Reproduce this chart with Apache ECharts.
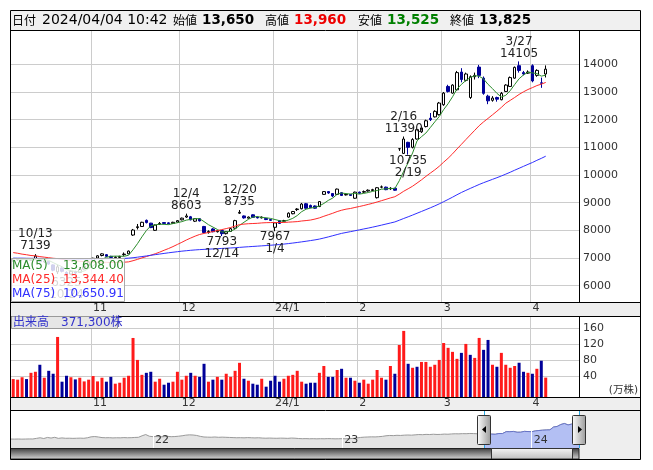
<!DOCTYPE html>
<html><head><meta charset="utf-8">
<script src="https://cdn.jsdelivr.net/npm/echarts@6/dist/echarts.min.js"></script>
<style>html,body{margin:0;padding:0;background:#fff}#c{width:653px;height:470px}</style>
</head><body><div id="c"></div>
<script>
const FONT = '"DejaVu Sans", "Noto Sans CJK JP", sans-serif';

// ---- trading days (plus blank future days that fill the right of the axis) ----
const dates = [
'2023-10-05','2023-10-06','2023-10-10','2023-10-11','2023-10-12','2023-10-13','2023-10-16','2023-10-17','2023-10-18','2023-10-19','2023-10-20','2023-10-23','2023-10-24','2023-10-25','2023-10-26','2023-10-27','2023-10-30','2023-10-31',
'2023-11-01','2023-11-02','2023-11-06','2023-11-07','2023-11-08','2023-11-09','2023-11-10','2023-11-13','2023-11-14','2023-11-15','2023-11-16','2023-11-17','2023-11-20','2023-11-21','2023-11-22','2023-11-24','2023-11-27','2023-11-28','2023-11-29','2023-11-30',
'2023-12-01','2023-12-04','2023-12-05','2023-12-06','2023-12-07','2023-12-08','2023-12-11','2023-12-12','2023-12-13','2023-12-14','2023-12-15','2023-12-18','2023-12-19','2023-12-20','2023-12-21','2023-12-22','2023-12-25','2023-12-26','2023-12-27','2023-12-28','2023-12-29',
'2024-01-04','2024-01-05','2024-01-09','2024-01-10','2024-01-11','2024-01-12','2024-01-15','2024-01-16','2024-01-17','2024-01-18','2024-01-19','2024-01-22','2024-01-23','2024-01-24','2024-01-25','2024-01-26','2024-01-29','2024-01-30','2024-01-31',
'2024-02-01','2024-02-02','2024-02-05','2024-02-06','2024-02-07','2024-02-08','2024-02-09','2024-02-13','2024-02-14','2024-02-15','2024-02-16','2024-02-19','2024-02-20','2024-02-21','2024-02-22','2024-02-26','2024-02-27','2024-02-28','2024-02-29',
'2024-03-01','2024-03-04','2024-03-05','2024-03-06','2024-03-07','2024-03-08','2024-03-11','2024-03-12','2024-03-13','2024-03-14','2024-03-15','2024-03-18','2024-03-19','2024-03-21','2024-03-22','2024-03-25','2024-03-26','2024-03-27','2024-03-28','2024-03-29',
'2024-04-01','2024-04-02','2024-04-03','2024-04-04',
'2024-04-05','2024-04-08','2024-04-09','2024-04-10','2024-04-11','2024-04-12','2024-04-15'];

const opens = [6900,6930,6940,6970,6920,6970,6980,6860,6880,6750, 6500,6640,6480,6420,6500,6480,6600,6720,6900,7000, 7090,7120,7060,7010,7020,7120,7150,7830,8100,8140, 8360,8260,8000,8220,8280,8270,8250,8300,8380,8480, 8490,8330,8420,8140,7920,8050,7950,7990,7880,7960, 8080,8620,8520,8440,8560,8480,8450,8430,8390,8110, 8350,8330,8480,8600,8750,8780,8960,8900,8880,8860, 9300,9400,9330,9300,9360,9280,9300,9160,9380,9380, 9420,9440,9180,9560,9560,9500,9520,10950,10780,11180, 11000,11300,11560,11750,12050,12100,12180,12540,13200,12960, 13080,13720,13420,12800,13550,13900,13500,12850,12700,12800, 12720,13020,13200,13500,13950,13700,13680,13950,13600,13330, 13650];
const highs = [6960,6980,6985,6985,6980,7139,6985,6920,6900,6770, 6760,6660,6520,6560,6540,6600,6720,6880,7010,7100, 7170,7140,7080,7060,7080,7200,7270,8050,8230,8310, 8390,8270,8210,8300,8300,8290,8310,8370,8460,8603, 8520,8440,8440,8160,8000,8080,8010,8010,7970,8090, 8380,8735,8540,8500,8580,8500,8500,8440,8400,8290, 8370,8380,8650,8700,8800,8990,8990,8930,8900,9060, 9420,9420,9340,9510,9380,9330,9310,9400,9400,9440, 9480,9500,9560,9620,9580,9560,9540,10950,11390,11200, 11330,11680,11760,12000,12240,12340,12640,13000,13260,13280, 13760,13860,13700,13600,13700,13980,13560,12900,12850,12830, 13000,13280,13560,13920,14105,13760,13780,14000,13820,13520, 13960];
const lows = [6870,6900,6910,6900,6900,6950,6850,6820,6760,6520, 6420,6480,6325,6400,6420,6460,6580,6700,6880,6980, 7060,7040,7000,6990,7000,7080,7140,7800,8030,8120, 8250,8080,7980,8200,8230,8220,8230,8280,8360,8450, 8360,8300,8320,7900,7880,7930,7920,7793,7850,7940, 8060,8590,8420,8420,8450,8430,8430,8370,8340,7967, 8230,8300,8460,8580,8700,8760,8780,8800,8780,8840, 9280,9320,9200,9280,9240,9260,9240,9140,9320,9350, 9400,9420,9150,9520,9450,9460,9430,10870,10760,10735, 10960,11280,11520,11720,11950,12080,12150,12500,12980,12940, 13050,13350,13380,12750,13450,13500,12900,12560,12650,12650, 12700,13000,13180,13480,13700,13600,13650,13350,13550,13150, 13525];
const closes = [6930,6950,6970,6920,6960,7070,6870,6890,6780,6560, 6680,6520,6400,6520,6460,6580,6700,6850,6990,7080, 7150,7060,7020,7030,7060,7140,7250,8010,8130,8290, 8280,8100,8190,8250,8250,8240,8290,8350,8440,8520, 8380,8420,8340,7920,7960,7950,7990,7880,7950,8060, 8350,8650,8450,8480,8470,8450,8480,8390,8360,8270, 8250,8350,8620,8680,8770,8950,8800,8820,8800,9040, 9400,9350,9240,9490,9260,9300,9260,9380,9340,9400, 9450,9470,9540,9570,9470,9520,9450,10950,11300,11000, 11280,11640,11700,11960,12000,12300,12600,12960,13020,13250, 13700,13450,13650,13550,13600,13600,12950,12680,12780,12740, 12950,13250,13520,13890,13780,13650,13720,13400,13780,13315, 13825];

// volume in 万株, colour (u = red, d = blue)
const volumes = [33.5,32,38,33.5,49,51.6,69,36.8,54,46.7, 138,27,41.7,38,32.7,36.8,27.7,32,41,27.7, 36.8,27,39,22,24.4,36.8,41.7,135.5,81,44, 49,51.6,27,34.3,19.5,24.4,27,51.6,32,41.7, 49,41.7,39,71.4,27,32,39,32,46.7,39, 54,73.8,34.3,29.4,22,19.5,34.3,14.6,29.4,41.7, 27,34.3,41.7,44,54,27,22,24.4,24.4,49, 66,39,39,56,59,36.8,36.8,29.4,24.4,32, 22,32,56,36.8,32,66,46.7,118,153,71.4, 61.5,64,76,76,64,69,81,123,111,101, 83.7,98.5,120.7,93.6,86,135.6,106,130.6,69,64, 98.5,69,61.5,66,74,51.6,49,46.7,59,79, 37.13];
const volumeDir = ('uuuduududd'+'udduduuuuu'+'udduuuuuuu'+'dduudduuuu'+'duddududuu'+'uududduddd'+'duuuuudddu'+'uddudududu'+'uuuududuud'+'uduuuuuuuu'+'ududuuddud'+'uuuuddudud'+'u').split('');

const ma5Head = [6985,6960,6950,6940];
const ma25Head = [7195,7172,7140,7118,7090,7078,7050,7031,7010,6990,6978,6952,6930,6918,6896,6884,6868,6861,6850,6848,6841,6843,6836,6840];
const ma75Head = [6995,6993,6994,6990,6988,6989,6985,6983,6978,6974, 6973,6968,6964,6963,6959,6957,6958,6960,6963,6967, 6970,6972,6974,6977,6980,6985,6995,7010,7030,7052, 7074,7098,7121,7143,7166,7188,7208,7228,7247,7263, 7279,7292,7303,7312,7320,7328,7337,7346,7354,7363, 7372,7384,7396,7407,7418,7428,7439,7450,7461,7474, 7487,7503,7521,7540,7561,7583,7606,7630,7655,7684, 7722,7762,7805,7848];

const highMarkIdx = [5, 39, 51, 88, 114];
const lowMarkIdx = [12, 47, 59, 89];

const priceTicks = [6000,7000,8000,9000,10000,11000,12000,13000,14000];
const volumeTicks = [40,80,120,160];
const monthStarts = ['2023-11-01','2023-12-01','2024-01-04','2024-02-01','2024-03-01','2024-04-01'];
const monthTickLabels = ['11','12','24/1','2','3','4'];

// header / legends
const headerDate = '2024/04/04 10:42';
const headerNames = ['始値','高値','安値','終値'];
const headerValues = ['13,650','13,960','13,525','13,825'];
const maNames = ['MA(5)','MA(25)','MA(75)'];
const maLastValues = ['13,608.00','13,344.40','10,650.91'];
const volumeLabel = '出来高　371,300株';

// navigator: weekly closes, 2021-04-09 .. 2024-04-05
const navStart = '2021-04-09';
const navClose = [3450,3420,3480,3400,3460,3520,3500,3900,4300,3800, 4500,4100,4600,3900,4200,3950,4000,3900,3980,4050, 3950,4300,4900,5100,4800,4400,4300,4350,4200,4300, 4250,4400,4300,4350,4500,4600,5600,6400,5300,5000, 5100,4900,5000,5200,5000,5100,5300,5600,6000,6200, 6100,5800,5200,4800,4700,4650,4800,4600,4700,4600, 4500,4400,4300,4350,4250,4400,4300,4200,4300,4100, 4000,4100,4000,3950,4050,4000,3900,4100,4000,3800, 3700,3750,3650,3700,3600,3700,3650,3750,3700,3600, 3650,3700,3600,3750,3900,4200,4500,4700,4800,4900, 4850,5000,5200,5600,5800,5700,5900,5800,6000,6100, 6000,6200,6400,6300,6500,6400,6600,6450,6500,6700, 6600,6800,6900,6850,7000,6950,7100,7050,6900,7000, 6950,7070,6680,6580,7080,7060,8290,8250,8440,7920, 7950,8480,8360,8250,8770,9040,9260,9400,9470,11300, 11700,12960,13650,12680,13250,13720,13825];
const navSelStart = '2023-10-06';

// ---------------------------------------------------------------
const navWeeks = [];
{ let t = Date.parse(navStart + 'T00:00:00Z');
  for (let k = 0; k < navClose.length; k++) { navWeeks.push(new Date(t).toISOString().slice(0,10)); t += 7*864e5; } }
const selIdx = navWeeks.indexOf(navSelStart);
const yearStartIdx = navWeeks.map((w,i)=> i>0 && w.slice(0,4)!==navWeeks[i-1].slice(0,4) ? i : -1).filter(i=>i>=0);

function movingAvg(src, n, head) {
  return src.map((v, i) => {
    if (i < n - 1) return head[i];
    let s = 0; for (let k = i - n + 1; k <= i; k++) s += src[k];
    return +(s / n).toFixed(2);
  });
}
const ma5 = movingAvg(closes, 5, ma5Head);
const ma25 = movingAvg(closes, 25, ma25Head);
const ma75 = movingAvg(closes, 75, ma75Head);

const GREEN = '#2b8c2b', RED = '#ff2a2a', BLUE = '#3030ff', NAVY = '#000099', VRED = '#ff1a1a';
const mdLabel = d => (+d.slice(5,7)) + '/' + (+d.slice(8,10));
const monthTick = (i, v) => monthStarts.indexOf(v) >= 0;
const monthFmt = v => monthTickLabels[monthStarts.indexOf(v)] || '';
const yearTick = (i, v) => yearStartIdx.indexOf(i) >= 0;

const candleData = opens.map((o,i)=>[o, closes[i], lows[i], highs[i]]);
const markData = highMarkIdx.map(i => ({coord:[dates[i], highs[i]], label:{position:'top', distance:2, formatter: mdLabel(dates[i]) + '\n' + highs[i]}}))
  .concat(lowMarkIdx.map(i => ({coord:[dates[i], lows[i]], label:{position:'bottom', distance:0, formatter: lows[i] + '\n' + mdLabel(dates[i])}})));

function xAxisCommon(gi, margin) {
  return {type:'category', gridIndex:gi, data:dates, boundaryGap:true,
    axisLine:{show:false}, axisTick:{show:false},
    axisLabel:{interval:monthTick, formatter:monthFmt, align:'left', margin:margin, fontSize:11, color:'#333', fontFamily:FONT},
    splitLine:{show:true, interval:monthTick, lineStyle:{color:'#cccccc', width:1}}};
}

const chart = echarts.init(document.getElementById('c'), null, {renderer:'canvas'});

function txt(id, text, x, y, font, fill, align) {
  return {type:'text', id, z:130, silent:true, style:{text, x, y, font, fill, align: align||'left', verticalAlign:'middle', textAlign: align||'left', textVerticalAlign:'middle'}};
}
function hline(id, y, x1, x2) { return {type:'line', id, z:110, silent:true, shape:{x1, y1:y, x2, y2:y}, style:{stroke:'#000', lineWidth:1}}; }
function vline(id, x, y1, y2) { return {type:'line', id, z:110, silent:true, shape:{x1:x, y1, x2:x, y2}, style:{stroke:'#000', lineWidth:1}}; }

const els = [
  {type:'rect', id:'hdrbg', z:-10, silent:true, shape:{x:10,y:10,width:631,height:20}, style:{fill:'#f0f0f0'}},
  {type:'rect', id:'s1bg', z:-10, silent:true, shape:{x:10,y:302,width:631,height:14}, style:{fill:'#eeeeee'}},
  {type:'rect', id:'s2bg', z:-10, silent:true, shape:{x:10,y:397,width:631,height:13}, style:{fill:'#eeeeee'}},
  {type:'rect', id:'navR', z:-10, silent:true, shape:{x:579,y:410,width:62,height:50}, style:{fill:'#eeeeee'}},
  {type:'rect', id:'track', z:100, silent:true, shape:{x:10.5,y:448.5,width:568.5,height:10.5},
    style:{fill:{type:'linear',x:0,y:0,x2:0,y2:1,colorStops:[{offset:0,color:'#3a3a3a'},{offset:0.5,color:'#8a8a8a'},{offset:1,color:'#d8d8d8'}]}, stroke:'#222', lineWidth:1}},
  {type:'rect', id:'frame', z:110, silent:true, shape:{x:10.5,y:10.5,width:630,height:449}, style:{fill:'none', stroke:'#000', lineWidth:1}},
  hline('l30', 30.5, 10.5, 640.5),
  hline('l302', 302.5, 10.5, 640.5),
  hline('l316', 316.5, 10.5, 640.5),
  hline('l397', 397.5, 10.5, 640.5),
  hline('l410', 410.5, 10.5, 640.5),
  vline('v1', 579.5, 30.5, 302.5),
  vline('v2', 579.5, 316.5, 397.5),
  // header
  txt('hd0', '日付', 12, 20, '12px "Noto Sans CJK JP"', '#000'),
  txt('hd1', headerDate, 42, 20, '14px "DejaVu Sans"', '#000'),
  // MA legend box
  {type:'rect', id:'mabox', z:120, silent:true, shape:{x:11.5,y:258.5,width:113,height:43}, style:{fill:'rgba(255,255,255,0.82)', stroke:'#aaaaaa', lineWidth:1}},
  // volume label box
  {type:'rect', id:'vbox', z:120, silent:true, shape:{x:11.5,y:316.5,width:106,height:12}, style:{fill:'#e6e6e6', stroke:'#999999', lineWidth:1}},
  txt('vlab', volumeLabel, 13, 322.5, '12px "DejaVu Sans", "Noto Sans CJK JP"', '#3333cc'),
  txt('unit', '(万株)', 638, 390, '10.5px "DejaVu Sans", "Noto Sans CJK JP"', '#333', 'right')
];
const headerX = [[173, 202], [265, 294], [358, 387], [450, 479]];
const headerColors = ['#000', '#ee0000', '#008000', '#000'];
headerNames.forEach((n,k)=>{
  els.push(txt('hn'+k, n, headerX[k][0], 20, '12px "Noto Sans CJK JP"', '#000'));
  els.push(txt('hv'+k, headerValues[k], headerX[k][1], 20.5, 'bold 13.5px "DejaVu Sans"', headerColors[k]));
});
const maCols = [GREEN, RED, BLUE];
maNames.forEach((n,k)=>{
  els.push(txt('mn'+k, n, 12, 266 + k*14, '12px "DejaVu Sans"', maCols[k]));
  els.push(txt('mv'+k, maLastValues[k], 124, 266 + k*14, '12px "DejaVu Sans"', maCols[k], 'right'));
});

const plainNum = v => String(v);

const option = {
  animation:false,
  backgroundColor:'#ffffff',
  textStyle:{fontFamily:FONT},
  grid:[
    {left:11, top:30, width:568, height:272},
    {left:11, top:316, width:568, height:81},
    {left:11, top:411, width:568, height:37}
  ],
  xAxis:[
    xAxisCommon(0, 1),
    xAxisCommon(1, 1),
    {type:'category', gridIndex:2, data:navWeeks, boundaryGap:false, z:5,
      axisLine:{show:false}, axisTick:{show:false}, splitLine:{show:false},
      axisLabel:{inside:true, interval:yearTick, formatter:v=>v.slice(2,4), align:'left', margin:2, fontSize:11, color:'#333', padding:[0,0,0,2]}}
  ],
  yAxis:[
    {type:'value', gridIndex:0, position:'right', min:5410, max:15240,
      axisLine:{show:false}, axisTick:{show:false, customValues:priceTicks},
      axisLabel:{customValues:priceTicks, formatter:plainNum, margin:4, fontSize:11, color:'#333', fontFamily:FONT},
      splitLine:{show:true, lineStyle:{color:'#cccccc', width:1}}},
    {type:'value', gridIndex:1, position:'right', min:-11, max:190, startValue:-11,
      axisLine:{show:false}, axisTick:{show:false, customValues:volumeTicks},
      axisLabel:{customValues:volumeTicks, formatter:plainNum, margin:4, fontSize:11, color:'#333', fontFamily:FONT},
      splitLine:{show:true, lineStyle:{color:'#cccccc', width:1}}},
    {type:'value', gridIndex:2, min:-2400, max:21800, show:false}
  ],
  series:[
    {type:'candlestick', name:'price', xAxisIndex:0, yAxisIndex:0, data:candleData, barWidth:3, z:2,
      itemStyle:{color:'#ffffff', color0:NAVY, borderColor:'#000000', borderColor0:NAVY, borderWidth:1},
      markPoint:{symbol:'circle', symbolSize:0, silent:true, itemStyle:{color:'transparent'},
        label:{show:true, fontSize:12, fontFamily:FONT, color:'#222', lineHeight:12}, data:markData}},
    {type:'line', name:'MA(5)', xAxisIndex:0, yAxisIndex:0, data:ma5.slice(0, closes.length), symbol:'none', silent:true, z:3, lineStyle:{color:GREEN, width:1}},
    {type:'line', name:'MA(25)', xAxisIndex:0, yAxisIndex:0, data:ma25.slice(0, closes.length), symbol:'none', silent:true, z:3, lineStyle:{color:RED, width:1}},
    {type:'line', name:'MA(75)', xAxisIndex:0, yAxisIndex:0, data:ma75.slice(0, closes.length), symbol:'none', silent:true, z:3, lineStyle:{color:BLUE, width:1}},
    {type:'bar', name:'volume', xAxisIndex:1, yAxisIndex:1, barWidth:3, silent:true,
      data:volumes.map((v,i)=>({value:v, itemStyle:{color: volumeDir[i]==='u' ? VRED : NAVY}}))},
    {type:'line', name:'nav', xAxisIndex:2, yAxisIndex:2, data:navClose, symbol:'none', silent:true, z:2,
      lineStyle:{color:'#9a9a9a', width:1}, areaStyle:{color:'#e4e4e4', opacity:1, origin:'start'}},
    {type:'line', name:'navSel', xAxisIndex:2, yAxisIndex:2, data:navClose.map((v,i)=> i>=selIdx ? v : '-'), symbol:'none', silent:true, z:3,
      lineStyle:{color:'#6673c8', width:1}, areaStyle:{color:'#b3bff3', opacity:1, origin:'start'},
      markLine:{silent:true, symbol:'none', label:{show:false}, animation:false,
        data: yearStartIdx.map(i=>({xAxis:navWeeks[i], lineStyle:{color:'#ffffff', width:1, type:'solid'}}))
          .concat([{xAxis:navWeeks[selIdx], lineStyle:{color:'#2aa7e0', width:1, type:'solid'}},
                   {xAxis:navWeeks[navWeeks.length-1], lineStyle:{color:'#2aa7e0', width:1, type:'solid'}}])}}
  ],
  graphic: els
};
chart.setOption(option);

// navigator handles and scroll thumb, placed at the selection ends
const xL = chart.convertToPixel({xAxisIndex:2}, navWeeks[selIdx]);
const xR = chart.convertToPixel({xAxisIndex:2}, navWeeks[navWeeks.length-1]);
const extra = [];
const handleFill = {type:'linear',x:0,y:0,x2:1,y2:0,colorStops:[{offset:0,color:'#ffffff'},{offset:1,color:'#999999'}]};
extra.push({type:'rect', id:'thumb', z:105, silent:true, shape:{x:Math.round(xL)+7.5, y:448.5, width:Math.round(xR)-Math.round(xL)-14, height:10.5},
  style:{fill:{type:'linear',x:0,y:0,x2:0,y2:1,colorStops:[{offset:0,color:'#f6f6f6'},{offset:1,color:'#bdbdbd'}]}, stroke:'#333', lineWidth:1}});
[xL, xR].forEach((x,k)=>{
  const cx = Math.round(x);
  extra.push({type:'rect', id:'hd'+k+'r', z:140, silent:true, shape:{x:cx-6.5, y:415.5, width:13, height:29, r:1}, style:{fill:handleFill, stroke:'#333', lineWidth:1}});
  extra.push({type:'polygon', id:'hd'+k+'t', z:141, silent:true,
    shape:{points: k===0 ? [[cx+2,426],[cx+2,433],[cx-2,429.5]] : [[cx-1,426],[cx-1,433],[cx+3,429.5]]}, style:{fill:'#000'}});
});
chart.setOption({graphic: els.concat(extra)});
</script>
</body></html>
